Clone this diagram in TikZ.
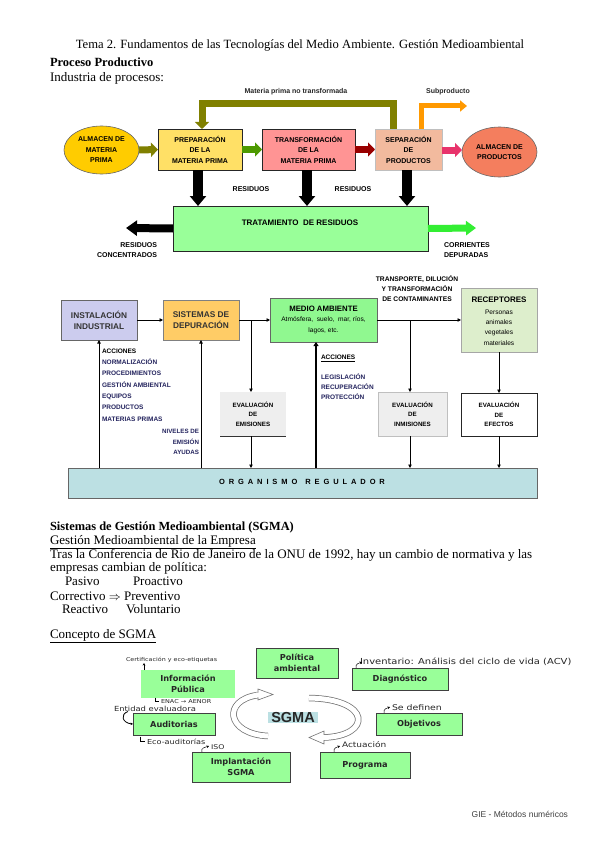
\documentclass[tikz,border=0pt]{standalone}
\usepackage{fontspec}
\setmainfont{Liberation Serif}
\newfontfamily\sff{Liberation Sans}
\newfontfamily\vsf{DejaVu Sans}
\newfontfamily\handf{DejaVu Sans}[FakeStretch=1.2]
\usetikzlibrary{arrows.meta,calc,shapes.geometric}
\newcommand\myfs[2]{\fontsize{#1}{#2}\selectfont}
\definecolor{cOvalA}{HTML}{FFCC00}
\definecolor{cPrep}{HTML}{FFE066}
\definecolor{cTrans}{HTML}{FF9494}
\definecolor{cSep}{HTML}{F2BA9E}
\definecolor{cOvalB}{HTML}{F47E5E}
\definecolor{cTrat}{HTML}{99FF99}
\definecolor{cOlive}{HTML}{808000}
\definecolor{cGreenA}{HTML}{4D9900}
\definecolor{cRedA}{HTML}{990000}
\definecolor{cPinkA}{HTML}{E8336B}
\definecolor{cOrangeA}{HTML}{FF9900}
\definecolor{cBrightG}{HTML}{33EE33}
\definecolor{cInst}{HTML}{CCCCEE}
\definecolor{cSist}{HTML}{FFCC66}
\definecolor{cMedio}{HTML}{90F890}
\definecolor{cRecep}{HTML}{DDEECC}
\definecolor{cEval}{HTML}{EEEEEE}
\definecolor{cOrg}{HTML}{BCE0E3}
\definecolor{cNavy}{HTML}{24245E}
\definecolor{cSg}{HTML}{99FF99}
\begin{document}
\begin{tikzpicture}[x=1pt,y=-1pt,
  every node/.style={inner sep=0pt,outer sep=0pt},
  capb/.style={font=\sff\bfseries\myfs{7}{10.5}, align=center},
  smallb/.style={font=\sff\bfseries\myfs{6.2}{9.5}, align=center},
  pbx/.style={draw=black!85, line width=0.9pt},
  fatar/.style={line width=7pt, -{Triangle[length=7pt,width=14pt]}},
  blackar/.style={line width=10pt, -{Triangle[length=10pt,width=16pt]}},
  thinar/.style={line width=0.8pt, -{Triangle[length=3.5pt,width=3.5pt]}},
  sgbox/.style={fill=cSg, draw=black!75, line width=0.7pt, font=\vsf\bfseries\myfs{8.2}{11}, align=center, text=black!85},
  hand/.style={font=\handf\myfs{7.5}{9}, text=black!85},
  hk/.style={line width=0.5pt, -{Stealth[length=2.5pt,width=2.5pt]}},
  bodyt/.style={font=\myfs{13}{14}, anchor=base west},
]
\useasboundingbox[fill=white] (0,0) rectangle (599,848);

% ---------- header ----------
\node[anchor=base, font=\myfs{12.6}{14}] (hdr) at (300,49) {Tema 2. Fundamentos de las Tecnologías del Medio Ambiente. Gestión Medioambiental};
\node[bodyt, font=\bfseries\myfs{12.5}{14}] (t1) at (50,67) {Proceso Productivo};
\node[bodyt] (t2) at (50,82) {Industria de procesos:};

% ---------- process diagram ----------
\node[ellipse, fill=cOvalA, draw=black!60, line width=0.6pt, minimum width=75pt, minimum height=48pt, capb] (ovA) at (101.5,150) {ALMACEN DE\\MATERIA\\PRIMA};
\node[pbx, fill=cPrep, minimum width=84pt, minimum height=41pt, capb] (prep) at (200,149.5) {PREPARACIÓN\\DE LA\\MATERIA PRIMA};
\node[pbx, fill=cTrans, minimum width=93pt, minimum height=41pt, capb] (trans) at (308.5,149.5) {TRANSFORMACIÓN\\DE LA\\MATERIA PRIMA};
\node[fill=cSep, draw=black!25, line width=0.6pt, minimum width=67pt, minimum height=41pt, capb] (sep) at (408.5,149.5) {SEPARACIÓN\\DE\\PRODUCTOS};
\node[ellipse, fill=cOvalB, draw=black!60, line width=0.6pt, minimum width=75pt, minimum height=50pt, capb] (ovB) at (499.5,152) {ALMACEN DE\\PRODUCTOS};
\node[pbx, fill=cTrat, minimum width=255pt, minimum height=45pt] (trat) at (300.5,228.5) {};
\node[font=\sff\bfseries\myfs{8}{9}] (tratl) at (300,223) {TRATAMIENTO\ \ DE RESIDUOS};

\draw[fatar, cOlive] (ovA.east) -- (prep.west);
\draw[fatar, cGreenA] (prep.east) -- (trans.west);
\draw[fatar, cRedA] (trans.east) -- (sep.west);
\draw[fatar, cPinkA] ([yshift=-0.5pt]sep.east) -- ([yshift=-0.5pt]sep.east -| ovB.west);
\draw[cOlive, line width=7pt, line join=miter, -{Triangle[length=7pt,width=14pt]}] ([xshift=-15.5pt]sep.north) -- ++(0,-25) -| ([xshift=2pt]prep.north);
\coordinate (subp) at (467,106);
\draw[cOrangeA, line width=5pt, line join=miter, -{Triangle[length=7pt,width=11pt]}] ([xshift=12.5pt]sep.north) |- (subp);
\node[font=\sff\bfseries\myfs{7}{8}, text=black!85] (mpnt) at (296,92) {Materia prima no transformada};
\node[font=\sff\bfseries\myfs{7}{8}, text=black!85] (subl) at (448,92) {Subproducto};

\draw[blackar] ([xshift=-2pt]prep.south) -- ([xshift=-2pt]prep.south |- trat.north);
\draw[blackar] ([xshift=-1.5pt]trans.south) -- ([xshift=-1.5pt]trans.south |- trat.north);
\draw[blackar] ([xshift=-1.5pt]sep.south) -- ([xshift=-1.5pt]sep.south |- trat.north);
\node[font=\sff\bfseries\myfs{7}{8}] (res1) at (251,189) {RESIDUOS};
\node[font=\sff\bfseries\myfs{7}{8}] (res2) at (353,189) {RESIDUOS};

\coordinate (rconc) at (126,228);
\coordinate (cdep) at (476,228);
\draw[line width=8pt, -{Triangle[length=11pt,width=15pt]}] (trat.west) -- (rconc);
\draw[cBrightG, line width=7pt, -{Triangle[length=10pt,width=14pt]}] (trat.east) -- (cdep);
\node[font=\sff\bfseries\myfs{7}{10}, align=right, anchor=north east] (rcl) at (157,243) {RESIDUOS\\CONCENTRADOS};
\node[font=\sff\bfseries\myfs{7}{10}, align=left, anchor=north west] (cdl) at (444,243) {CORRIENTES\\DEPURADAS};

% ---------- regulatory diagram ----------
\node[fill=cInst, draw=black!60, line width=1pt, minimum width=76pt, minimum height=40pt, font=\sff\bfseries\myfs{8.3}{11}, align=center, text=black!80] (inst) at (99,320) {INSTALACIÓN\\INDUSTRIAL};
\node[fill=cSist, draw=black!50, line width=0.8pt, minimum width=76pt, minimum height=40pt, font=\sff\bfseries\myfs{8.3}{11}, align=center, text=black!80] (sist) at (201,320) {SISTEMAS DE\\DEPURACIÓN};
\node[fill=cMedio, draw=black!60, line width=0.8pt, minimum width=107pt, minimum height=44pt, align=center] (medio) at (323.5,320) {};
\node[font=\sff\bfseries\myfs{7.8}{9}] (medl1) at (323.5,309) {MEDIO AMBIENTE};
\node[font=\sff\myfs{6.6}{10.5}, align=center] (medl2) at (323.5,325.5) {Atmósfera,\ \ suelo,\ \ mar, ríos,\\lagos, etc.};
\node[fill=cRecep, draw=black!35, line width=0.8pt, minimum width=76pt, minimum height=64pt] (recep) at (499,320) {};
\node[font=\sff\bfseries\myfs{8}{9}] (recl1) at (499,300) {RECEPTORES};
\node[font=\sff\myfs{6.6}{10.3}, align=center] (recl2) at (499,327.5) {Personas\\animales\\vegetales\\materiales};

\node[fill=cEval, minimum width=66pt, minimum height=44pt, smallb] (evem) at (253,414) {EVALUACIÓN\\DE\\EMISIONES};
\draw[black!80, line width=1pt] (evem.south west) -- (evem.south east);
\node[fill=cEval, draw=black!25, line width=0.6pt, minimum width=69pt, minimum height=44pt, smallb] (evin) at (412.5,414) {EVALUACIÓN\\DE\\INMISIONES};
\node[fill=white, draw=black!85, line width=0.9pt, minimum width=76pt, minimum height=43pt, smallb] (evef) at (499,414.5) {EVALUACIÓN\\DE\\EFECTOS};
\node[fill=cOrg, draw=black!60, line width=0.8pt, minimum width=469pt, minimum height=30pt] (org) at (302.5,483) {};
\node[font=\sff\bfseries\myfs{7.5}{9}\addfontfeature{LetterSpace=52}] (orgl) at (302,482) {ORGANISMO\hspace{8pt}REGULADOR};

\coordinate (b1) at (251,320);
\coordinate (b2) at (410,320);
\coordinate (mx) at (316,342);
\draw[thinar] (inst.east) -- (sist.west);
\draw[thinar] (sist.east) -- (medio.west);
\draw[thinar] (medio.east) -- (recep.west);
\draw[thinar] (b1) -- (b1 |- evem.north);
\draw[thinar] (b2) -- (b2 |- evin.north);
\draw[thinar] (recep.south) -- (evef.north);
\draw[thinar] (b1 |- evem.south) -- (b1 |- org.north);
\draw[thinar] (b2 |- evin.south) -- (b2 |- org.north);
\draw[thinar] (evef.south) -- (evef.south |- org.north);
\draw[thinar] (inst.south |- org.north) -- (inst.south);
\draw[thinar] (sist.south |- org.north) -- (sist.south);
\draw[line width=2pt, -{Triangle[length=4pt,width=5pt]}] (mx |- org.north) -- (mx);

\node[font=\sff\bfseries\myfs{6.7}{10}, align=center] (tdc) at (417,289) {TRANSPORTE, DILUCIÓN\\Y TRANSFORMACIÓN\\DE CONTAMINANTES};

\node[font=\sff\bfseries\myfs{6.5}{11.35}, align=left, anchor=north west, text=cNavy] (acc1) at (102,348.5) {\textcolor{black}{ACCIONES}\\NORMALIZACIÓN\\PROCEDIMIENTOS\\GESTIÓN AMBIENTAL\\EQUIPOS\\PRODUCTOS\\MATERIAS PRIMAS};
\node[font=\sff\bfseries\myfs{6.2}{10.3}, align=right, anchor=north east, text=cNavy] (acc2) at (199,429.5) {NIVELES DE\\EMISIÓN\\AYUDAS};
\node[font=\sff\bfseries\myfs{6.5}{10}, anchor=west] (acc3) at (321,358) {\underline{ACCIONES}};
\node[font=\sff\bfseries\myfs{6.5}{10}, align=left, anchor=north west, text=cNavy] (acc4) at (321,374) {LEGISLACIÓN\\RECUPERACIÓN\\PROTECCIÓN};

% ---------- SGMA text ----------
\node[bodyt, font=\bfseries\myfs{12.4}{14}] (s1) at (50,530) {Sistemas de Gestión Medioambiental (SGMA)};
\node[bodyt] (s2) at (50,544) {\underline{Gestión Medioambiental de la Empresa}};
\node[bodyt] (s3) at (50,558) {Tras la Conferencia de Rio de Janeiro de la ONU de 1992, hay un cambio de normativa y las};
\node[bodyt] (s4) at (50,571) {empresas cambian de política:};
\node[bodyt] (s5a) at (65,585) {Pasivo};
\node[bodyt] (s5b) at (133,585) {Proactivo};
\node[bodyt] (s6) at (50,600) {Correctivo $\Rightarrow$ Preventivo};
\node[bodyt] (s7a) at (62,613) {Reactivo};
\node[bodyt] (s7b) at (126,613) {Voluntario};
\node[bodyt] (s8) at (50,638) {\underline{Concepto de SGMA}};

% ---------- SGMA diagram ----------
\node[sgbox, minimum width=82pt, minimum height=30pt] (pol) at (297,663) {Política\\ambiental};
\node[sgbox, draw=none, minimum width=94pt, minimum height=28pt] (inf) at (188,684) {Información\\Pública};
\node[sgbox, minimum width=82pt, minimum height=22pt] (aud) at (174,724) {Auditorias};
\node[sgbox, minimum width=98pt, minimum height=30pt] (imp) at (241,767) {Implantación\\SGMA};
\node[sgbox, minimum width=96pt, minimum height=22pt] (diag) at (400,679) {Diagnóstico};
\node[sgbox, minimum width=86pt, minimum height=22pt] (obj) at (419,724) {Objetivos};
\node[sgbox, minimum width=90pt, minimum height=26pt] (prog) at (365,765) {Programa};

% cycle arrows
\draw[black!55, line width=6.5pt] (268,736) .. controls (226,734) and (222,700) .. (258,695);
\draw[white, line width=5pt] (268,736) .. controls (226,734) and (222,700) .. (258,695);
\filldraw[fill=white, draw=black!55, line width=0.6pt] (258,689) -- (273,694.5) -- (258,700) -- cycle;
\draw[white, line width=4.8pt] (255,695.2) -- (259,695);
\draw[black!55, line width=6.5pt] (309,698) .. controls (372,699) and (372,736) .. (324,737.5);
\draw[white, line width=5pt] (309,698) .. controls (372,699) and (372,736) .. (324,737.5);
\filldraw[fill=white, draw=black!55, line width=0.6pt] (324,731) -- (309,737.5) -- (324,744) -- cycle;
\draw[white, line width=4.8pt] (323,737.5) -- (327,737.4);
\node[fill=cOrg, minimum width=50pt, minimum height=11pt, font=\sff\bfseries\myfs{14.5}{15}, text=black!85] (sgma) at (293,717.5) {SGMA};

% hand annotations
\node[hand, font=\handf\myfs{5.3}{7}, anchor=west] (a1) at (126,660) {Certificación y eco-etiquetas};
\draw[hk] ([xshift=3pt]inf.north west) -- ++(0,-7);
\node[hand, font=\handf\myfs{5.4}{6}, anchor=west] (a2) at (161,701.3) {ENAC → AENOR};
\draw[line width=0.5pt] (155,697.5) -- (155,701.5) -- (159,701.5);
\node[hand, font=\handf\myfs{7}{8}, anchor=west] (a3) at (114,709.3) {Entidad evaluadora};
\draw[hk, line width=0.8pt] (128,711.5) .. controls (120,714) and (122,723) .. (aud.west);
\node[hand, font=\handf\myfs{6.8}{8}, anchor=west] (a4) at (147,742) {Eco-auditorías};
\draw[line width=0.5pt] (140,736.5) -- (140,741.5) -- (145,741.5);
\node[hand, font=\handf\myfs{6.5}{8}, anchor=west] (a5) at (211,747) {ISO};
\draw[hk] ([xshift=10pt]imp.north west) .. controls ++(-2,-4) and ++(-3,1) .. ++(7,-6);
\node[hand, font=\handf\myfs{8.3}{9}, anchor=west] (a6) at (360,662) {Inventario: Análisis del ciclo de vida (ACV)};
\draw[hk] ([xshift=4pt]diag.north west) .. controls ++(-1,-4) and ++(-3,1) .. ++(6,-6);
\node[hand, font=\handf\myfs{7.8}{9}, anchor=west] (a7) at (392,708) {Se definen};
\draw[hk] ([xshift=8pt]obj.north west) .. controls ++(-1,-4) and ++(-3,1) .. ++(6,-6);
\node[hand, font=\handf\myfs{7.5}{9}, anchor=west] (a8) at (342,745) {Actuación};
\draw[hk] ([xshift=14pt]prog.north west) .. controls ++(-1,-4) and ++(-3,1) .. ++(6,-6);

% footer
\node[anchor=base east, font=\sff\myfs{8.5}{10}, text=black!75] (foot) at (568,817) {GIE - Métodos numéricos};
\end{tikzpicture}
\end{document}
